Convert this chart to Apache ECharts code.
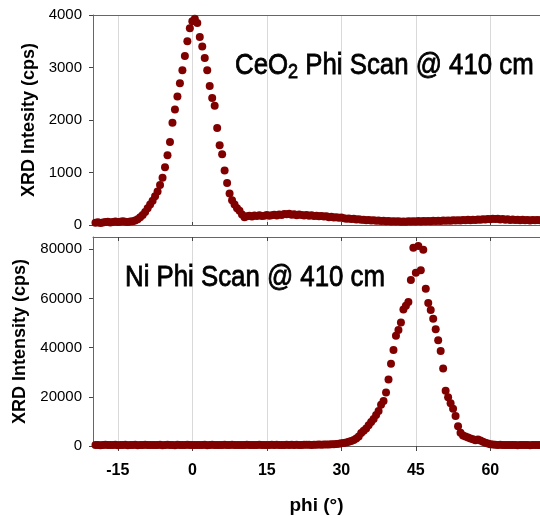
<!DOCTYPE html>
<html>
<head>
<meta charset="utf-8">
<script src="https://cdn.jsdelivr.net/npm/echarts@6/dist/echarts.min.js"></script>
<style>
  html, body { margin: 0; padding: 0; background: #fff; }
  #chart { width: 540px; height: 516px; }
</style>
</head>
<body>
<div id="chart"></div>
<script>
// Phi scan sampling: -19.5° .. 70° in 0.5° steps
const phiStart = -19.5;
const phiStep = 0.5;

// CeO2 (top panel), counts per second at each phi step
const cpsCeO2 = [
  45, 52, 40, 48, 55, 60, 50, 58, 65, 55,
  62, 70, 60, 58, 66, 72, 85, 110, 150, 190,
  250, 320, 390, 460, 550, 640, 760, 900, 1100, 1330,
  1580, 1950, 2200, 2450, 2700, 2950, 3220, 3500, 3750, 3880,
  3930, 3850, 3580, 3400, 3180, 2950, 2650, 2420, 2270, 1850,
  1520, 1350, 1040, 800, 600, 470, 390, 320, 270, 200,
  150, 165, 175, 160, 180, 170, 185, 172, 178, 190,
  175, 185, 195, 180, 200, 190, 210, 205, 215, 195,
  205, 185, 198, 190, 180, 192, 175, 185, 170, 178,
  165, 172, 160, 168, 150, 158, 145, 150, 138, 142,
  130, 120, 125, 112, 118, 105, 110, 98, 102, 92,
  95, 85, 90, 80, 86, 75, 82, 70, 78, 68,
  72, 65, 70, 62, 68, 60, 70, 65, 72, 66,
  74, 68, 78, 70, 76, 72, 80, 74, 82, 78,
  85, 80, 88, 82, 90, 85, 92, 88, 95, 90,
  98, 92, 100, 95, 105, 98, 110, 104, 115, 108,
  120, 112, 118, 105, 112, 100, 108, 96, 104, 95,
  100, 92, 98, 90, 96, 88, 94, 90, 95, 92
];

// Ni (bottom panel), counts per second at each phi step
const cpsNi = [
  380, 450, 320, 410, 500, 360, 430, 390, 470, 340,
  420, 380, 510, 350, 440, 400, 460, 330, 420, 390,
  480, 360, 410, 450, 370, 430, 500, 340, 410, 460,
  380, 420, 350, 470, 400, 440, 360, 490, 410, 380,
  450, 400, 370, 430, 480, 350, 420, 460, 390, 440,
  410, 370, 460, 420, 380, 500, 430, 360, 450, 400,
  430, 480, 390, 440, 360, 410, 470, 400, 450, 420,
  380, 460, 420, 500, 390, 440, 410, 480, 430, 470,
  420, 520, 450, 400, 490, 460, 540, 430, 510, 480,
  560, 500, 620, 580, 650, 700, 760, 850, 900, 1100,
  1250, 1400, 1700, 2000, 2400, 3100, 3900, 5300, 6200, 7100,
  8400, 9800, 11000, 12600, 14200, 16800, 18300, 21800, 27000, 33500,
  39000, 44800, 47200, 50200, 55500, 57000, 58600, 67500, 80600, 70500,
  81300, 71500, 79800, 64000, 58200, 55300, 51800, 47500, 43000, 38600,
  31500, 22500, 19800, 17400, 15200, 12200, 8000, 5400, 4300, 3900,
  3500, 3100, 2700, 2300, 2600, 2200, 1700, 1300, 1000, 750,
  620, 520, 450, 480, 400, 430, 380, 420, 360, 400,
  350, 390, 420, 370, 400, 350, 380, 410, 360, 390
];

// Axis ticks
const phiTicks = [-15, 0, 15, 30, 45, 60];
const ceTicks = [0, 1000, 2000, 3000, 4000];
const niTicks = [0, 20000, 40000, 60000, 80000];

function toPoints(values) {
  return values.map((v, i) => [phiStart + i * phiStep, v]);
}

const sansFont = "'Liberation Sans', Arial, Helvetica, sans-serif";
const axisGrey = '#666';
const gridGrey = '#d9d9d9';
const markerColor = '#800000';
const plainNumber = (v) => String(v);
// Condensed medium-weight panel captions: regular sans, squeezed, lightly stroked
const captionSquash = 0.86;
const captionText = { fontFamily: sansFont, fontSize: 30, fill: '#000', stroke: '#000', lineWidth: 0.8 };

function phiAxis(gridIndex, opts) {
  return Object.assign({
    type: 'value',
    gridIndex: gridIndex,
    min: -20,
    max: 70,
    axisLine: { show: true, onZero: false, lineStyle: { color: axisGrey, width: 1 } },
    axisTick: { show: true, inside: true, length: 3, customValues: phiTicks, lineStyle: { color: '#444' } },
    axisLabel: { show: false },
    splitLine: { show: false }
  }, opts);
}

const chart = echarts.init(document.getElementById('chart'), null, { renderer: 'canvas' });

chart.setOption({
  animation: false,
  backgroundColor: '#fff',
  graphic: [
    {
      type: 'text',
      x: 235, y: 48,
      scaleX: captionSquash,
      z: 10,
      style: {
        text: '{t|CeO}{s|2}{t| Phi Scan @ 410 cm}',
        verticalAlign: 'top',
        rich: {
          t: captionText,
          s: Object.assign({}, captionText, { fontSize: 21, padding: [14, 0, 0, 0] })
        }
      }
    },
    {
      type: 'text',
      x: 125, y: 263,
      scaleX: captionSquash,
      z: 10,
      style: Object.assign({ text: 'Ni Phi Scan @ 410 cm', verticalAlign: 'top' }, captionText)
    }
  ],
  grid: [
    { left: 93, top: 15, width: 448, height: 210 },
    { left: 93, top: 237, width: 448, height: 209 }
  ],
  xAxis: [
    phiAxis(0, {
      position: 'bottom',
      splitLine: { show: true, lineStyle: { color: gridGrey, width: 1 } }
    }),
    phiAxis(0, { position: 'top', axisTick: { show: false } }),
    phiAxis(1, {
      position: 'bottom',
      axisTick: { show: true, inside: false, length: 5, customValues: phiTicks, lineStyle: { color: '#444' } },
      axisLabel: {
        show: true, customValues: phiTicks, margin: 17,
        fontFamily: sansFont, fontSize: 16, fontWeight: 'bold', color: '#000'
      },
      splitLine: { show: true, lineStyle: { color: gridGrey, width: 1 } },
      name: 'phi (°)',
      nameLocation: 'middle',
      nameGap: 50,
      nameTextStyle: { fontFamily: sansFont, fontSize: 19, fontWeight: 'bold', color: '#000' }
    }),
    phiAxis(1, {
      position: 'top',
      axisTick: { show: true, inside: true, length: 4, customValues: phiTicks, lineStyle: { color: '#444' } }
    })
  ],
  yAxis: [
    {
      type: 'value', gridIndex: 0, min: 0, max: 4000,
      axisLine: { show: true, onZero: false, lineStyle: { color: axisGrey } },
      axisTick: { show: true, inside: false, length: 4, customValues: ceTicks, lineStyle: { color: '#444' } },
      axisLabel: { customValues: ceTicks, formatter: plainNumber, margin: 11, fontFamily: sansFont, fontSize: 15, color: '#000' },
      splitLine: { show: false },
      name: 'XRD Intesity (cps)',
      nameLocation: 'middle',
      nameGap: 54,
      nameTextStyle: { fontFamily: sansFont, fontSize: 18, fontWeight: 'bold', color: '#000' }
    },
    {
      type: 'value', gridIndex: 1, min: 0, max: 85000,
      axisLine: { show: true, onZero: false, lineStyle: { color: axisGrey } },
      axisTick: { show: true, inside: false, length: 4, customValues: niTicks, lineStyle: { color: '#444' } },
      axisLabel: { customValues: niTicks, formatter: plainNumber, margin: 11, fontFamily: sansFont, fontSize: 15, color: '#000' },
      splitLine: { show: false },
      name: 'XRD Intensity (cps)',
      nameLocation: 'middle',
      nameGap: 60,
      nameTextStyle: { fontFamily: sansFont, fontSize: 18, fontWeight: 'bold', color: '#000' }
    }
  ],
  series: [
    {
      name: 'CeO2',
      type: 'scatter',
      xAxisIndex: 0, yAxisIndex: 0,
      data: toPoints(cpsCeO2),
      symbol: 'circle', symbolSize: 8,
      itemStyle: { color: markerColor, opacity: 1 },
      silent: true
    },
    {
      name: 'Ni',
      type: 'scatter',
      xAxisIndex: 2, yAxisIndex: 1,
      data: toPoints(cpsNi),
      symbol: 'circle', symbolSize: 8,
      itemStyle: { color: markerColor, opacity: 1 },
      silent: true
    }
  ]
});
</script>
</body>
</html>
